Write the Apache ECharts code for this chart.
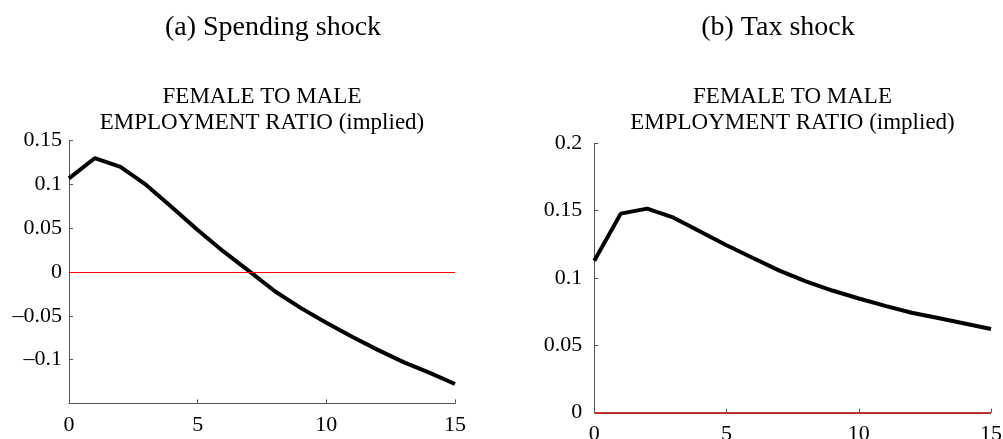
<!DOCTYPE html>
<html>
<head>
<meta charset="utf-8">
<style>
  html, body { margin: 0; padding: 0; background: #ffffff; }
  #chart { width: 1003px; height: 439px; }
</style>
<script src="https://cdn.jsdelivr.net/npm/echarts@6/dist/echarts.min.js"></script>
</head>
<body>
<div id="chart"></div>
<script>
// Impulse responses of the female-to-male employment ratio, quarters 0..15
const quarters = [0, 1, 2, 3, 4, 5, 6, 7, 8, 9, 10, 11, 12, 13, 14, 15];
const spendingResponse = [0.107, 0.130, 0.120, 0.0995, 0.074, 0.048, 0.0235, 0.001,
  -0.022, -0.041, -0.058, -0.074, -0.089, -0.103, -0.115, -0.128];
const taxResponse = [0.1128, 0.1478, 0.1515, 0.1448, 0.1345, 0.1243, 0.1148, 0.1055,
  0.0975, 0.0907, 0.0848, 0.0793, 0.0742, 0.0703, 0.0662, 0.0621];

const panelCaptions = ['(a) Spending shock', '(b) Tax shock'];
const panelTitle = 'FEMALE TO MALE\nEMPLOYMENT RATIO (implied)';
const xTicks = { min: 0, max: 15, step: 5 };
const spendingTicks = { min: -0.15, max: 0.15, step: 0.05 };
const taxTicks = { min: 0, max: 0.2, step: 0.05 };

const serif = 'Liberation Serif';

function pairs(xs, ys) {
  return xs.map((x, i) => [x, ys[i]]);
}

function tickLabel(v, hideBelow) {
  if (hideBelow !== undefined && v < hideBelow) return '';
  const r = parseFloat(v.toFixed(3));
  if (r === 0) return '0';
  const s = String(Math.abs(r));
  return (r < 0 ? '\u2013' : '') + s;
}

const axisLineStyle = { color: '#555555', width: 1 };

function xAxisFor(gridIndex, margin) {
  return {
    type: 'value', gridIndex,
    min: xTicks.min, max: xTicks.max, interval: xTicks.step,
    axisLine: { show: true, onZero: false, lineStyle: axisLineStyle },
    axisTick: { show: true, inside: true, length: 4, lineStyle: axisLineStyle },
    splitLine: { show: false },
    axisLabel: { color: '#000', fontFamily: serif, fontSize: 22, margin,
      formatter: v => String(v) }
  };
}

function yAxisFor(gridIndex, ticks, margin, hideBelow) {
  return {
    type: 'value', gridIndex,
    min: ticks.min, max: ticks.max, interval: ticks.step,
    axisLine: { show: true, onZero: false, lineStyle: axisLineStyle },
    axisTick: { show: true, inside: true, length: 4, lineStyle: axisLineStyle },
    splitLine: { show: false },
    axisLabel: { color: '#000', fontFamily: serif, fontSize: 22, margin,
      formatter: v => tickLabel(v, hideBelow) }
  };
}

function responseSeries(idx, values, zeroColor, zeroWidth) {
  return {
    type: 'line', xAxisIndex: idx, yAxisIndex: idx,
    data: pairs(quarters, values),
    showSymbol: false, symbol: 'none', smooth: false,
    lineStyle: { color: '#000000', width: 4 },
    animation: false,
    markLine: {
      silent: true, symbol: 'none', animation: false,
      label: { show: false },
      lineStyle: { color: zeroColor, width: zeroWidth, type: 'solid' },
      data: [{ yAxis: 0 }]
    }
  };
}

const chart = echarts.init(document.getElementById('chart'), null, { renderer: 'canvas' });

const titleText = { fontFamily: serif, fontSize: 23, lineHeight: 26, fontWeight: 'normal', color: '#000' };
const captionText = { fontFamily: serif, fontSize: 28, fontWeight: 'normal', color: '#000' };

chart.setOption({
  animation: false,
  backgroundColor: '#ffffff',
  title: [
    { text: panelCaptions[0], left: 273, top: 14, textAlign: 'center', padding: 0, textStyle: captionText },
    { text: panelCaptions[1], left: 778, top: 14, textAlign: 'center', padding: 0, textStyle: captionText },
    { text: panelTitle, left: 262, top: 84, textAlign: 'center', padding: 0, textStyle: titleText },
    { text: panelTitle, left: 792.5, top: 84, textAlign: 'center', padding: 0, textStyle: titleText }
  ],
  grid: [
    { left: 69, right: 548, top: 140.7, bottom: 35.7, outerBoundsMode: 'none', containLabel: false },
    { left: 594.3, right: 12, top: 143.3, bottom: 26.3, outerBoundsMode: 'none', containLabel: false }
  ],
  xAxis: [xAxisFor(0, 11), xAxisFor(1, 11)],
  yAxis: [
    yAxisFor(0, spendingTicks, 7, -0.12),
    yAxisFor(1, taxTicks, 12)
  ],
  series: [
    responseSeries(0, spendingResponse, '#ff0000', 1),
    responseSeries(1, taxResponse, '#b83232', 2)
  ]
});
</script>
</body>
</html>
